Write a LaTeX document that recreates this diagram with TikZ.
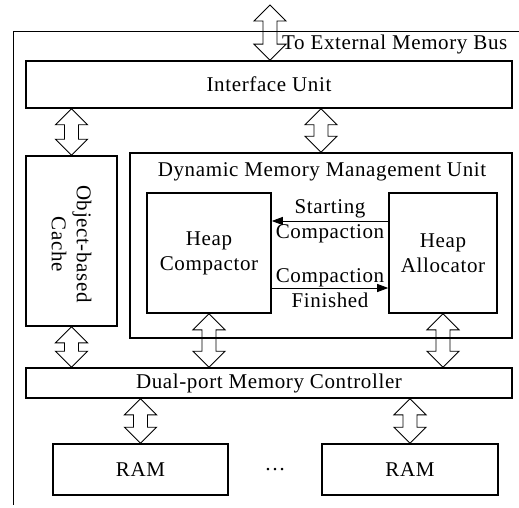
\documentclass[tikz,border=0pt]{standalone}
\usepackage{fontspec}
\setmainfont{Liberation Serif}[LetterSpace=3]
\usetikzlibrary{arrows.meta,calc,positioning}

\tikzset{
  unit/.style={draw, line width=1.6pt, inner sep=0pt},
  frame/.style={line width=0.9pt},
  bus/.style={line width=0.9pt, to path={let \p1=(\tikztostart), \p2=(\tikztotarget) in
    (\x1,\y1) -- ({\x1+16pt},{\y1-16pt}) -- ({\x1+7pt},{\y1-16pt}) -- ({\x1+7pt},{\y2+16pt})
    -- ({\x1+16pt},{\y2+16pt}) -- (\x1,\y2) -- ({\x1-16pt},{\y2+16pt}) -- ({\x1-7pt},{\y2+16pt})
    -- ({\x1-7pt},{\y1-16pt}) -- ({\x1-16pt},{\y1-16pt}) -- cycle}},
  signal/.style={-{Triangle[length=11pt,width=8pt]}, line width=0.9pt}
}

\begin{document}
\begin{tikzpicture}[x=1pt, y=-1pt, every node/.style={font=\fontsize{21}{25}\selectfont}]
   \useasboundingbox (0,0) rectangle (519,508);
   % outer frame
   \draw[frame] (519,31) -- (13,31) -- (13,505);
   \begin{scope}[every node/.append style={unit}]
    \node (iface) [minimum width=486, minimum height=47] at (269,84.5) {Interface Unit};
    \node (cache) [minimum width=91, minimum height=170] at (71.5,241) {};
    \node (dmmu) [minimum width=382, minimum height=185] at (321,245.5) {};
    \node (compactor) [minimum width=124, minimum height=120, align=center] at (209,253) {Heap\\Compactor};
    \node (allocator) [minimum width=108, minimum height=120, align=center] at (443,253) {Heap\\Allocator};
    \node (dpmc) [minimum width=486, minimum height=30] at (269,383) {Dual-port Memory Controller};
    \node (ram1) [minimum width=175, minimum height=51] at (140.5,469.5) {RAM};
    \node (ram2) [minimum width=176, minimum height=51] at (410,469.5) {RAM};
   \end{scope}
   \node (cachelabel) [rotate=-90, align=center] at ([yshift=-3pt]cache.center) {Object-based\\Cache};
   \node (dmmutitle) at (322,172) {Dynamic Memory Management Unit};
   \node (dots) at (275,470) {\ldots};
   \coordinate (ext) at (270,5);
   \node (extlabel) [anchor=west, inner sep=1pt] at (281,44) {To External Memory Bus};
   % buses
   \draw[bus] (ext) to (iface.north -| ext);
   \draw[bus] (iface.south -| cache) to (cache.north);
   \draw[bus] (iface.south -| dmmu) to (dmmu.north);
   \draw[bus] (cache.south) to (cache.south |- dpmc.north);
   \draw[bus] (compactor.south) to (compactor.south |- dpmc.north);
   \draw[bus] (allocator.south) to (allocator.south |- dpmc.north);
   \draw[bus] (dpmc.south -| ram1) to (ram1.north);
   \draw[bus] (dpmc.south -| ram2) to (ram2.north);
   % control signals
   \draw[signal] ([yshift=32pt]allocator.west) -- ([yshift=32pt]compactor.east)
      node[midway, align=center] {Starting\\Compaction};
   \draw[signal] ([yshift=-35pt]compactor.east) -- ([yshift=-35pt]allocator.west)
      node[midway, align=center] {Compaction\\Finished};
\end{tikzpicture}
\end{document}
